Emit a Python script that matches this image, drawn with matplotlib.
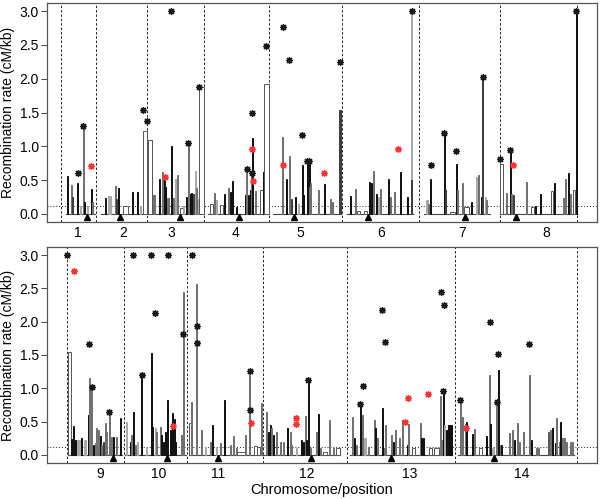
import matplotlib
matplotlib.use("Agg")
import matplotlib.pyplot as plt

plt.rcParams['font.family'] = ['Liberation Sans', 'DejaVu Sans']

# ---------------- data (positions on a cumulative genome axis) ----------------
top_bounds = [61, 96, 147, 204, 269, 342, 419, 500, 577]
top_chrom_labels = ['1', '2', '3', '4', '5', '6', '7', '8']
top_label_pos = [78, 123, 171, 236, 300, 381, 462, 546]
top_start = [66, 101, 148, 208, 273, 347, 424, 500]
top_end = [95, 147, 204, 269, 341, 413, 490, 577]
top_centromere = [86.7, 120.3, 180, 239, 294, 368.3, 465.3, 516]

# intervals: position, rate (cM/kb), interval length, tone
top_pos = [67.3, 71.5, 72, 77.7, 80, 83, 84.5, 87, 91, 92.5,
           105, 109.5, 115, 116, 118.3, 125.5, 132.7, 137.7, 140, 145,
           150, 154.3, 159, 162.3, 164.3, 165.5, 168.3, 171, 173.3, 175, 177.3, 181, 183, 186, 188.3, 190, 191.5, 193, 195, 196.7, 198, 201.7,
           211.5, 214.5, 216.5, 221.5, 224, 228.3, 230, 232.3, 236, 245, 246.7, 248, 250.7, 251.7, 252.3, 255, 261, 263.3, 266.7,
           282.7, 286, 289, 291.7, 295.7, 298.5, 302.3, 303.3, 307.3, 309, 309.5, 310.5, 318.3, 324.3, 330, 332.3, 340,
           350, 355, 358.5, 365, 369.3, 371, 373.3, 376, 378, 380, 388.3, 390, 394, 400, 407.7, 411.7, 411.9,
           427, 428, 430.7, 444.3, 445.7, 452, 456, 457.3, 462.3, 466.5, 471.7, 476, 478.3, 481.7, 482.7, 485, 486.7,
           501.5, 506.7, 510, 511.7, 513.3, 526.7, 532, 535, 540.7, 552, 554.3, 563.3, 565.7, 568.3, 570.7, 573.8, 576]
top_rate = [0.56, 0.43, 0.25, 0.45, 0.12, 1.30, 0.18, 0.12, 0.37, 0.18,
            0.24, 0.26, 0.42, 0.22, 0.39, 0.12, 0.33, 0.33, 0.12, 1.22,
            1.10, 0.28, 0.52, 0.62, 0.55, 0.40, 0.23, 1.00, 0.23, 0.52, 0.58, 0.08, 0.12, 0.25, 1.05, 0.30, 0.31, 0.30, 0.63, 0.38, 0.22, 1.87,
            0.14, 0.31, 0.20, 0.13, 0.29, 0.38, 0.32, 0.48, 0.10, 0.28, 0.66, 0.28, 0.35, 0.60, 1.13, 0.34, 0.36, 0.62, 1.92,
            1.14, 0.52, 0.86, 0.22, 0.25, 0.15, 0.72, 0.28, 0.77, 0.77, 0.40, 0.46, 0.36, 0.44, 0.22, 0.18, 1.53,
            0.27, 0.37, 0.04, 0.05, 0.47, 0.45, 0.63, 0.30, 0.25, 0.37, 0.52, 0.25, 0.33, 0.62, 0.25, 3.00, 0.50,
            0.20, 0.15, 0.52, 1.19, 0.35, 0.03, 0.74, 0.35, 0.45, 0.10, 0.18, 0.55, 0.57, 0.25, 2.02, 0.25, 0.20,
            0.74, 0.31, 0.95, 0.30, 0.28, 0.47, 0.10, 0.12, 0.30, 0.34, 0.46, 0.23, 0.51, 0.60, 0.30, 0.36, 3.00]
top_len = [1, 1, 1, 1, 1, 1, 1, 1, 1, 1,
           1, 3, 1, 1, 1, 5, 1, 1, 1, 3.5,
           4.5, 2, 1, 1, 1, 1, 2, 1, 1, 1, 1, 3, 1, 1, 1, 1, 1, 1, 1, 1, 1, 4.5,
           3, 1, 1, 3, 1, 1, 1, 1, 1, 1, 1, 1, 1, 1, 1, 1, 3, 1, 4.5,
           1, 1, 1, 1, 1, 1, 1, 1, 1, 1, 1, 1, 1, 1, 1, 1, 2,
           1, 1, 3, 3, 1, 1, 1, 1, 1, 1, 1, 1, 1, 1, 1, 1, 1,
           2, 1, 1, 1, 1, 5, 1, 1, 1, 5, 1, 1, 1, 1, 1, 1, 1,
           3.5, 1, 1, 1, 1, 1, 3, 1, 1, 2.5, 1, 1, 1, 1, 1, 2.5, 1]
top_tone = list("kgdklgklkg" "klgdkwkklw" "wgkgkkgkglgwlkgkkdlglw"
                "wglwkgkkxkgkkgkgwkw" "gkgdklkkkkggg" "kggd"
                "kgwwkkgklgkggkkld" "lgkkdwkggwklgkdlg" "wgkgdgwkkwkggkgwk")
top_star_pos = [77.7, 83, 91.3, 142.7, 147, 171, 165, 188.3, 199.3,
                246.7, 251.7, 252.3, 251.7, 253.3, 265.7,
                282.7, 288.7, 283.3, 302.3, 307.3, 309, 324, 339.7,
                411.7, 397.7, 430.7, 444.3, 456, 482.7,
                500, 510, 513.3, 575.7]
top_star_rate = [0.61, 1.30, 0.71, 1.53, 1.38, 3.0, 0.54, 1.05, 1.87,
                 0.67, 0.60, 1.49, 0.96, 0.49, 2.49,
                 2.77, 2.27, 0.72, 1.16, 0.78, 0.78, 0.60, 2.24,
                 3.0, 0.96, 0.73, 1.19, 0.93, 2.02,
                 0.81, 0.94, 0.72, 3.0]
top_star_kind = list("kkrkkkrkk" "kkkrrk" "kkrkkkrk" "kr" "kkkk" "kkrk")

bot_bounds = [67, 124, 187, 263, 347, 455, 577]
bot_chrom_labels = ['9', '10', '11', '12', '13', '14']
bot_label_pos = [100, 159, 218, 307, 410, 522]
bot_start = [68, 125, 189, 264, 350, 458]
bot_end = [122, 186, 263, 340, 452, 574]
bot_centromere = [113.3, 166.7, 218.3, 311, 390.7, 494.3]

bot_pos = [69.5, 71.7, 73.3, 75, 78.5, 81, 84.5, 88.3, 89.7, 91.7, 93.3, 95, 96.7, 98.3, 100, 101.7, 103.5, 105, 106.7, 109.3, 111, 113.3, 116.7, 120,
           126.7, 130, 131.7, 133.3, 135, 137.7, 141.7, 146.7, 151.7, 152.7, 155, 156.7, 160, 161.7, 163.3, 165, 167.7, 170, 171.7, 172.5, 174.3, 175.7, 181, 183.3,
           190.5, 191.7, 196.7, 201.7, 205, 210, 212.3, 216, 220, 224.3, 230, 233.3, 236.7, 241, 245, 249, 249.5, 255, 258, 261.7,
           266.7, 268.3, 270, 271.7, 273.3, 276, 280, 283.3, 287.3, 290, 291.7, 296, 301.7, 303.3, 305, 306.7, 308.3, 310, 316, 318.3, 320.5, 325, 329.3, 333.3, 338,
           352.7, 354, 356, 360, 361, 362.7, 365, 368.3, 374.3, 375.7, 377.3, 382.3, 384.3, 385.7, 391.7, 393.3, 395.7, 399, 402.3, 407, 408.3, 413, 420, 421.7, 423.3, 430, 436, 440.7, 442.3, 443.3, 444.3, 446, 449.5,
           460, 462.7, 465, 466.7, 472.7, 474, 480, 486.7, 489.3, 490, 492.5, 496.7, 498.3, 500, 501.7, 509.3, 512.3, 514.3, 517.3, 519.3, 523.3, 529, 531.7, 537.7, 548.3, 550, 552.3, 555, 556.7, 559, 560.7, 562.7, 564.3, 566.7, 570, 572.7]
bot_rate = [1.55, 0.24, 0.43, 0.22, 0.22, 0.25, 0.22, 0.60, 1.15, 1.02, 0.15, 0.18, 0.40, 0.37, 0.28, 0.15, 0.20, 0.48, 0.34, 0.64, 0.27, 0.27, 0.27, 0.55,
            0.49, 0.20, 0.30, 0.64, 0.15, 0.20, 1.20, 0.10, 1.53, 0.42, 0.41, 0.35, 0.42, 0.30, 0.20, 0.35, 0.82, 0.38, 0.35, 0.63, 0.54, 0.20, 0.30, 2.45,
            0.48, 0.80, 2.57, 0.37, 0.12, 0.20, 0.45, 0.10, 0.18, 0.82, 0.15, 0.28, 0.10, 0.05, 0.30, 0.38, 1.26, 0.13, 0.12, 0.78,
            0.65, 0.35, 0.45, 0.40, 0.30, 0.35, 0.20, 0.20, 0.40, 0.35, 0.15, 0.10, 0.22, 0.20, 0.58, 0.22, 1.13, 0.10, 0.35, 0.62, 0.10, 0.05, 0.52, 0.10, 0.10,
            0.57, 0.25, 0.15, 0.77, 0.50, 0.60, 0.25, 0.12, 0.53, 0.40, 0.25, 0.71, 0.10, 0.45, 0.30, 0.20, 0.38, 0.25, 0.52, 0.15, 0.46, 0.10, 0.48, 0.25, 0.25, 0.10, 0.10, 0.88, 0.23, 0.95, 0.45, 0.38, 0.45,
            0.82, 0.57, 0.47, 0.50, 0.32, 0.39, 0.10, 0.28, 1.20, 0.47, 0.10, 0.80, 1.27, 0.15, 0.15, 0.33, 0.38, 0.22, 0.48, 0.20, 0.35, 1.20, 0.23, 0.10, 0.35, 0.37, 0.40, 0.18, 0.56, 0.20, 0.50, 0.25, 0.25, 0.20, 0.20, 0.20]
bot_len = [3, 1, 1, 1, 2.5, 1, 2, 1, 1, 1, 1, 1, 1, 1, 1, 1, 1, 1, 1, 1, 1, 1, 1, 1,
           1, 1, 1, 1, 1, 1, 1, 1, 1, 1, 1, 1, 1, 1, 1, 1, 1, 1, 1, 1, 1, 1, 1, 1,
           3, 1, 1, 1, 1, 1, 1, 1, 1, 1, 1, 1, 1, 8, 1, 1, 1, 3, 3, 1,
           1, 1, 1, 1, 1, 1, 1, 1, 1, 1, 1, 1, 1, 1, 1, 1, 1, 1, 1, 1, 1, 4, 1, 1, 4,
           1, 1, 1, 1, 1, 1, 2, 1, 1, 1, 1, 1, 1, 1, 1, 1, 1, 1, 1, 1, 1, 3, 1, 1, 1, 3, 5, 1, 1, 1, 1, 1, 4,
           1, 1, 1, 1, 1, 1, 3, 1, 1, 1, 2, 1, 1, 1, 1, 1, 1, 1, 1, 1, 1, 1, 1, 3, 1, 1, 1, 1, 1, 1, 1, 1, 1, 1, 1, 1]
bot_tone = list("wkkklklkggkgggkgdggggkgkg"[:24]) + \
           list("lkgkglklkklggkkkkkkkkkgg") + \
           list("wggglgklgkgggwgggwwg") + \
           list("gkkgkgggkgglkkgkkggkgwggw") + \
           list("gkgkkglggkgkgggkgggkgwgkkwwggklkk") + \
           list("gggkkgwkgklgkgkggkggggkgwgkkggkggggg")
bot_star_pos = [67.3, 74, 89, 91.7, 109.3,
                132.7, 151, 168, 155.3, 141.7, 182.7, 173.3,
                191.7, 196.7, 196.7, 249.5, 249.5, 250.5,
                296, 296, 308.3,
                360, 362.7, 382, 385.3, 440.7, 444, 443.3, 405, 408, 428,
                460, 466, 490, 498.3, 496.7, 529]
bot_star_rate = [3.0, 2.76, 1.66, 1.02, 0.65,
                 3.0, 3.0, 3.0, 2.13, 1.20, 1.81, 0.44,
                 3.0, 1.94, 1.68, 1.26, 0.68, 0.48,
                 0.56, 0.46, 1.13,
                 0.77, 1.04, 2.17, 1.69, 2.44, 2.25, 0.96, 0.50, 0.86, 0.91,
                 0.82, 0.41, 2.00, 1.52, 0.79, 1.66]
bot_star_kind = list("krkkk" "kkkkkkr" "kkkkkr" "rrk" "kkkkkkkrrr" "krkkkk")

threshold = 0.115

# ---------------- styling ----------------
TONE_FILL = {'k': '#111111', 'd': '#3d3d3d', 'g': '#6f6f6f', 'l': '#a8a8a8', 'w': 'white', 'x': '#111111'}
TONE_EDGE = {'k': '#111111', 'd': '#3d3d3d', 'g': '#6f6f6f', 'l': '#a8a8a8', 'w': '#555555', 'x': '#111111'}
STAR_COL = {'k': '#1a1a1a', 'r': '#ff3333'}

fig = plt.figure(figsize=(6.0, 4.99), dpi=100)
ax_top = fig.add_axes([47 / 600, 1 - 222 / 499, 550 / 600, 219 / 499])
ax_bot = fig.add_axes([47 / 600, 1 - 463 / 499, 550 / 600, 216 / 499])


def draw_panel(ax, bounds, labels, label_pos, starts, ends, cent, pos, rate, length, tone,
               spos, srate, skind):
    n = min(len(pos), len(rate), len(length), len(tone))
    for i in range(n):
        t = tone[i]
        ax.bar(pos[i], rate[i], width=length[i], bottom=0, color=TONE_FILL[t],
               edgecolor=TONE_EDGE[t], linewidth=0.7, zorder=2)
    for s, e in zip(starts, ends):
        ax.plot([s, e], [0, 0], color='#444444', lw=0.8, zorder=1.5)
    for b in bounds:
        ax.axvline(b, color='#222222', lw=0.7, ls=(0, (2.5, 2)), zorder=1)
    ax.axhline(threshold, color='#222222', lw=0.7, ls=(0, (1, 2)), zorder=1)
    ax.plot(cent, [-0.05] * len(cent), ls='none', marker='^', ms=4.2, color='black', zorder=3)
    for k in ('k', 'r'):
        xs = [p for p, kk in zip(spos, skind) if kk == k]
        ys = [r for r, kk in zip(srate, skind) if kk == k]
        ax.plot(xs, ys, ls='none', marker=(8, 2, 0), ms=5, mew=0.9, color=STAR_COL[k], zorder=4)
    ax.set_xlim(47, 597)
    ax.set_ylim(-0.12, 3.12)
    ax.set_yticks([0, 0.5, 1.0, 1.5, 2.0, 2.5, 3.0])
    ax.set_yticklabels(['0.0', '0.5', '1.0', '1.5', '2.0', '2.5', '3.0'], fontsize=10)
    ax.set_xticks(label_pos)
    ax.set_xticklabels(labels, fontsize=10)
    ax.tick_params(axis='x', length=0, pad=3)
    ax.tick_params(axis='y', length=4, width=0.7, pad=2, color='#444444')
    for sp in ax.spines.values():
        sp.set_linewidth(0.9)
        sp.set_color('#555555')
    ax.set_ylabel('Recombination rate (cM/kb)', fontsize=10, labelpad=3)


draw_panel(ax_top, top_bounds, top_chrom_labels, top_label_pos, top_start, top_end, top_centromere,
           top_pos, top_rate, top_len, top_tone, top_star_pos, top_star_rate, top_star_kind)
draw_panel(ax_bot, bot_bounds, bot_chrom_labels, bot_label_pos, bot_start, bot_end, bot_centromere,
           bot_pos, bot_rate, bot_len, bot_tone, bot_star_pos, bot_star_rate, bot_star_kind)
ax_bot.set_xlabel('Chromosome/position', fontsize=10.5, labelpad=1)

fig.savefig('out.png', dpi=100)
